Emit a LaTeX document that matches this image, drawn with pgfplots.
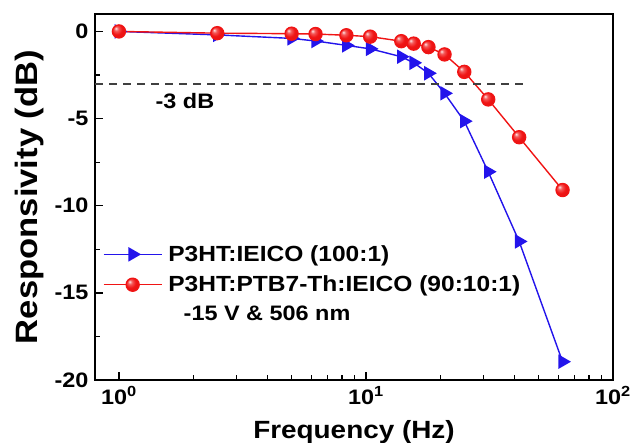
\documentclass[border=0pt]{standalone}
\usepackage{pgfplots}
\pgfplotsset{compat=1.18}
\usepackage{fontspec}
\setmainfont{Liberation Sans}[FakeStretch=1.12]
\usetikzlibrary{shadings}
\definecolor{bl}{RGB}{35,20,235}
\definecolor{rd}{RGB}{240,20,20}
\makeatletter
\pgfdeclareradialshading[tikz@ball]{ball}{\pgfqpoint{-12bp}{12bp}}{%
 color(0bp)=(tikz@ball!10!white); color(8bp)=(tikz@ball!70!white);
 color(20bp)=(tikz@ball); color(40bp)=(tikz@ball!92!black); color(60bp)=(tikz@ball!80!black)}
\makeatother
\begin{document}
\begin{tikzpicture}
\path[use as bounding box] (0,0) rectangle (633bp,443bp);
\begin{axis}[
  at={(95bp,63bp)}, anchor=south west,
  scale only axis, width=518bp, height=366bp,
  xmode=log, xmin=0.8, xmax=100, ymin=-20, ymax=1,
  xtick={1,10,100},
  xticklabels={10\textsuperscript{0},10\textsuperscript{1},10\textsuperscript{2}},
  ytick={0,-5,-10,-15,-20},
  yticklabels={0,-5,-10,-15,-20},
  minor ytick={-2.5,-7.5,-12.5,-17.5},
  tick align=inside, xtick pos=bottom, ytick pos=left,
  axis line style={line width=2.2bp},
  major tick length=8bp, minor tick length=5bp,
  every tick/.style={line width=1.5bp, black},
  every minor tick/.style={line width=1.2bp, black},
  ticklabel style={font=\fontsize{21}{21}\selectfont\bfseries},
  yticklabel style={xshift=-3bp},
  xticklabel style={yshift=-3bp},
  xlabel={Frequency (Hz)}, ylabel={Responsivity (dB)},
  xlabel style={font=\fontsize{25}{25}\selectfont\bfseries, yshift=-9bp},
  ylabel style={font=\fontsize{31}{31}\selectfont\bfseries, yshift=4bp},
  legend style={draw=none, fill=none, at={(0.015,0.373)}, anchor=north west,
    font=\fontsize{22}{22}\selectfont\bfseries, row sep=9bp, inner sep=0pt,
    /tikz/every odd column/.append style={column sep=4bp}},
  legend cell align=left,
  legend image code/.code={\draw[mark repeat=2,mark phase=2] plot coordinates {(0bp,0bp)(29bp,0bp)(58bp,0bp)};},
]
\addplot[bl, line width=1.4bp, mark=triangle*, mark size=7bp, mark options={rotate=-90, fill=bl, draw=bl}]
 coordinates {(1,0) (2.5,-0.2) (5,-0.4) (6.25,-0.55) (8.33,-0.8) (10.4,-1.0) (13.9,-1.45) (15.6,-1.8) (17.9,-2.4) (20.8,-3.55) (25,-5.15) (31.25,-8.05) (41.7,-12.05) (62.5,-18.95)};
\addlegendentry{P3HT:IEICO (100:1)}
\addplot[rd, line width=1.4bp, mark=ball, mark size=6.5bp, mark options={ball color=rd}]
 coordinates {(1,0) (2.5,-0.1) (5,-0.13) (6.25,-0.15) (8.33,-0.22) (10.4,-0.3) (13.9,-0.56) (15.6,-0.7) (17.9,-0.9) (20.8,-1.32) (25,-2.32) (31.25,-3.9) (41.7,-6.07) (62.5,-9.1)};
\addlegendentry{P3HT:PTB7-Th:IEICO (90:10:1)}
\addplot[black!75, line width=2bp, dash pattern=on 8bp off 6bp, forget plot] coordinates {(0.8,-3) (45,-3)};
\node[font=\fontsize{21}{21}\selectfont\bfseries] at (axis cs:1.85,-4.0) {-3 dB};
\node[anchor=west, font=\fontsize{21}{21}\selectfont\bfseries] at (axis cs:1.77,-16.15) {-15 V \& 506 nm};
\end{axis}
\end{tikzpicture}
\end{document}
